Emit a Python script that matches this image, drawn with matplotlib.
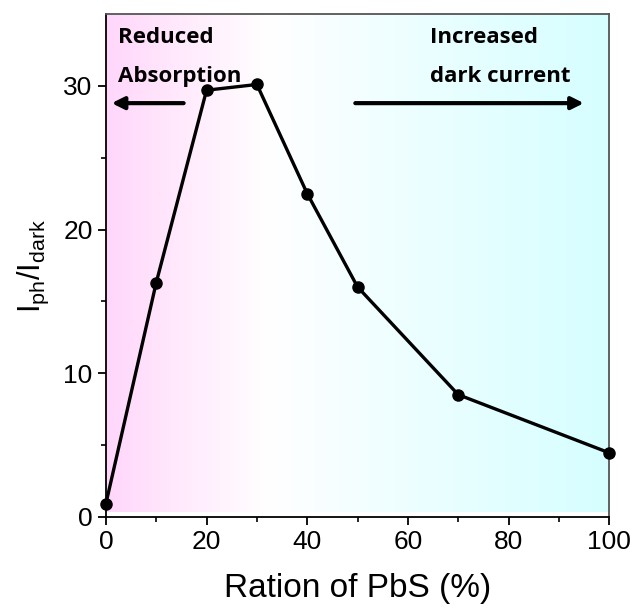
import numpy as np
import matplotlib
matplotlib.use('Agg')
import matplotlib.pyplot as plt
from matplotlib.colors import LinearSegmentedColormap

ratio = [0, 10, 20, 30, 40, 50, 70, 100]
on_off = [0.9, 16.3, 29.7, 30.1, 22.5, 16.0, 8.5, 4.45]
x_ticks = [0, 20, 40, 60, 80, 100]
y_ticks = [0, 10, 20, 30]

plt.rcParams['font.family'] = ['Liberation Sans', 'DejaVu Sans']
plt.rcParams['mathtext.fontset'] = 'custom'
plt.rcParams['mathtext.rm'] = 'Liberation Sans'

fig = plt.figure(figsize=(6.34, 6.13), dpi=100)
ax = fig.add_axes([0.167, 0.157, 0.794, 0.820])

# background gradient pink -> white -> cyan
cmap = LinearSegmentedColormap.from_list('bg', [(0, '#ffd6fb'), (0.12, '#ffe6fc'), (0.32, '#ffffff'),
                                                (0.62, '#ecfeff'), (1, '#d6ffff')])
grad = np.linspace(0, 1, 256).reshape(1, -1)
ax.imshow(grad, cmap=cmap, aspect='auto', extent=[0, 100, 0.3, 35], zorder=0)

ax.plot(ratio, on_off, color='black', lw=2.4, marker='o', ms=8, zorder=3, clip_on=False)

ax.set_xlim(0, 100)
ax.set_ylim(0, 35)
ax.set_xticks(x_ticks)
ax.set_yticks(y_ticks)
ax.set_xticks([10, 30, 50, 70, 90], minor=True)
ax.set_yticks([5, 15, 25], minor=True)
ax.tick_params(axis='both', which='major', direction='out', length=6, width=1.3, labelsize=19)
ax.tick_params(axis='both', which='minor', direction='out', length=3.5, width=1.2)
for s in ax.spines.values():
    s.set_linewidth(1.3)
for s in ['top', 'right']:
    ax.spines[s].set_color('#555555')

ax.set_xlabel('Ration of PbS (%)', fontsize=24, labelpad=14)
ax.set_ylabel(r'$\mathregular{I_{ph}/I_{dark}}$', fontsize=22, labelpad=9)

tfont = dict(family=['Open Sans', 'DejaVu Sans'], fontweight='bold', fontsize=16)
ax.text(2.4, 33.0, 'Reduced', ha='left', va='baseline', **tfont)
ax.text(2.4, 30.3, 'Absorption', ha='left', va='baseline', **tfont)
ax.text(64.4, 33.0, 'Increased', ha='left', va='baseline', **tfont)
ax.text(64.4, 30.3, 'dark current', ha='left', va='baseline', **tfont)

ax.annotate('', xy=(0.6, 28.8), xytext=(16, 28.8),
            arrowprops=dict(arrowstyle='-|>', color='black', lw=3, mutation_scale=18))
ax.annotate('', xy=(95.5, 28.8), xytext=(49, 28.8),
            arrowprops=dict(arrowstyle='-|>', color='black', lw=3, mutation_scale=18))

fig.savefig('out.png', dpi=100)
